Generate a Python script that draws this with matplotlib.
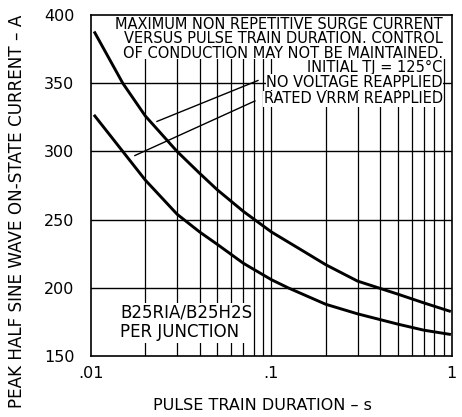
import numpy as np
import matplotlib
matplotlib.use('Agg')
import matplotlib.pyplot as plt
from matplotlib.patches import Rectangle

# curves
t_no_volt = [0.0105, 0.015, 0.02, 0.03, 0.04, 0.05, 0.07, 0.1, 0.15, 0.2, 0.3, 0.5, 0.7, 0.97]
i_no_volt = [387, 350, 326, 300, 284, 272, 256, 241, 227, 217, 205, 195.5, 189, 183]

t_rated = [0.0105, 0.015, 0.02, 0.03, 0.04, 0.05, 0.07, 0.1, 0.124, 0.2, 0.3, 0.5, 0.7, 0.97]
i_rated = [326, 300, 279, 254, 241, 232, 218, 206, 200, 188, 181, 173.5, 169, 166]

xticks = [0.01, 0.1, 1]
xtick_labels = ['.01', '.1', '1']
yticks = [150, 200, 250, 300, 350, 400]

note_text = ('MAXIMUM NON REPETITIVE SURGE CURRENT\n'
             'VERSUS PULSE TRAIN DURATION. CONTROL\n'
             'OF CONDUCTION MAY NOT BE MAINTAINED.')
tj_text = 'INITIAL TJ = 125\u00b0C'
leg_lines = ['NO VOLTAGE REAPPLIED', 'RATED VRRM REAPPLIED']

plt.rcParams['font.family'] = 'DejaVu Sans'

fig = plt.figure(figsize=(4.62, 4.17), dpi=100)
ax = fig.add_axes([0.197, 0.146, 0.781, 0.818])

ax.set_xscale('log')
ax.set_xlim(0.01, 1)
ax.set_ylim(150, 400)

# grid: every decade subdivision
vgrid = [k * 10.0**e for e in (-2, -1) for k in range(2, 10)] + [0.1]
for xv in vgrid:
    ax.axvline(xv, color='black', lw=0.9, zorder=1)
for yv in [200, 250, 300, 350]:
    ax.axhline(yv, color='black', lw=1.0, zorder=1)

# white area behind the note text
ax.add_patch(Rectangle((0.04, 0.871), 0.95, 0.129, transform=ax.transAxes,
                       facecolor='white', edgecolor='none', zorder=2))

ax.plot(t_no_volt, i_no_volt, color='black', lw=2.1, zorder=4)
ax.plot(t_rated, i_rated, color='black', lw=2.1, zorder=4)

# leader lines
ax.plot([0.0232, 0.0842], [322, 352], color='black', lw=1.0, zorder=3)
ax.plot([0.0175, 0.081], [297, 337], color='black', lw=1.0, zorder=3)

xr = 0.975
ax.text(xr, 0.93, note_text, transform=ax.transAxes, ha='right', va='center',
        multialignment='right', fontsize=10.5, linespacing=0.98, zorder=5)
ax.text(xr, 0.847, tj_text, transform=ax.transAxes, ha='right', va='center',
        fontsize=10.5, zorder=5,
        bbox=dict(facecolor='white', edgecolor='none', pad=0.3))
for s, y in zip(leg_lines, [0.803, 0.755]):
    ax.text(xr, y, s, transform=ax.transAxes, ha='right', va='center',
            fontsize=10.5, zorder=5,
            bbox=dict(facecolor='white', edgecolor='none', pad=0.3))

ax.text(0.08, 0.098, 'B25RIA/B25H2S\nPER JUNCTION', transform=ax.transAxes,
        ha='left', va='center', fontsize=12, linespacing=1.1, zorder=5,
        bbox=dict(facecolor='white', edgecolor='none', pad=1.0))

ax.set_xticks(xticks)
ax.set_xticklabels(xtick_labels)
ax.set_yticks(yticks)
ax.xaxis.set_minor_locator(matplotlib.ticker.NullLocator())
ax.tick_params(axis='both', length=0, labelsize=11.5, pad=7)
ax.tick_params(axis='y', pad=12)
for sp in ax.spines.values():
    sp.set_linewidth(1.2)

fig.text(262 / 462, 1 - 405 / 417, 'PULSE TRAIN DURATION \u2013 s', ha='center', va='center',
         fontsize=11.5)
fig.text(17 / 462, 1 - 408 / 417, 'PEAK HALF SINE WAVE ON-STATE CURRENT \u2013 A',
         rotation=90, ha='center', va='bottom', fontsize=12.1)

fig.savefig('out.png', dpi=100, facecolor='white')
